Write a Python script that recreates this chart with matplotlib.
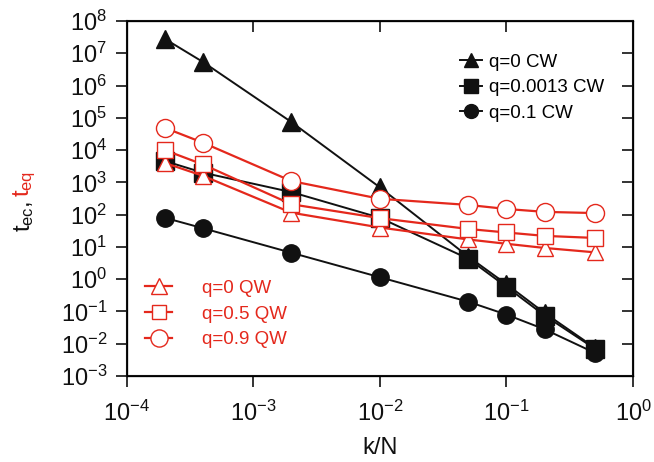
import numpy as np
import matplotlib
matplotlib.use("Agg")
import matplotlib.pyplot as plt
from matplotlib.ticker import LogLocator, NullLocator

plt.rcParams['font.family'] = ['Liberation Sans', 'DejaVu Sans']
plt.rcParams['mathtext.fontset'] = 'custom'
plt.rcParams['mathtext.rm'] = 'Liberation Sans'
plt.rcParams['mathtext.it'] = 'Liberation Sans:italic'
plt.rcParams['mathtext.bf'] = 'Liberation Sans:bold'

RED = '#e4281c'

# k/N values
kn = [2e-4, 4e-4, 2e-3, 1e-2, 5e-2, 1e-1, 2e-1, 5e-1]

# CW series (black, filled)
cw_q0 = [2.8e7, 5.4e6, 7.4e4, 700, 5.0, 0.7, 0.09, 0.0075]
cw_q0013 = [4.6e3, 2.0e3, 500, 80, 4.3, 0.58, 0.075, 0.007]
cw_q01 = [80, 38, 6.6, 1.15, 0.2, 0.08, 0.028, 0.0052]

# QW series (red, open)
qw_q0 = [4.0e3, 1.6e3, 115, 40, 17, 12.5, 9.3, 6.8]
qw_q05 = [1.0e4, 3.6e3, 210, 78, 36, 28, 22, 19]
qw_q09 = [4.9e4, 1.7e4, 1.1e3, 310, 200, 150, 122, 112]

fig = plt.figure(figsize=(6.54, 4.62), dpi=100)
ax = fig.add_axes([0.1937, 0.1861, 0.7743, 0.7684])

blk = []
for y, m, lab in [(cw_q0, '^', 'q=0 CW'), (cw_q0013, 's', 'q=0.0013 CW'), (cw_q01, 'o', 'q=0.1 CW')]:
    h, = ax.plot(kn, y, color='#111111', lw=1.4, marker=m, ms=12.5, mfc='#111111', mec='#111111', label=lab, zorder=2)
    blk.append(h)

red = []
for y, m, ms, lab in [(qw_q0, '^', 12, 'q=0 QW'), (qw_q05, 's', 11, 'q=0.5 QW'), (qw_q09, 'o', 13, 'q=0.9 QW')]:
    h, = ax.plot(kn, y, color=RED, lw=1.6, marker=m, ms=ms, mfc='white', mec=RED, mew=1.0, label=lab, zorder=3)
    red.append(h)

ax.set_xscale('log')
ax.set_yscale('log')
ax.set_xlim(1e-4, 1)
ax.set_ylim(1e-3, 1e8)
ax.xaxis.set_major_locator(LogLocator(base=10, numticks=20))
ax.yaxis.set_major_locator(LogLocator(base=10, numticks=20))
ax.xaxis.set_minor_locator(NullLocator())
ax.yaxis.set_minor_locator(NullLocator())
ax.tick_params(axis='both', which='major', direction='out', length=8, width=1.2,
               labelsize=17, color='#111111', labelcolor='#111111')
ax.tick_params(axis='x', pad=10)
ax.tick_params(axis='y', pad=6)
for s in ax.spines.values():
    s.set_linewidth(1.5)
    s.set_color('#111111')

# top / right inward ticks
axt = ax.twiny()
axt.set_xscale('log')
axt.set_xlim(ax.get_xlim())
axt.xaxis.set_major_locator(LogLocator(base=10, numticks=20))
axt.xaxis.set_minor_locator(NullLocator())
axt.tick_params(axis='x', direction='in', length=8, width=1.2, labeltop=False, color='#111111')
axr = ax.twinx()
axr.set_yscale('log')
axr.set_ylim(ax.get_ylim())
axr.yaxis.set_major_locator(LogLocator(base=10, numticks=20))
axr.yaxis.set_minor_locator(NullLocator())
axr.tick_params(axis='y', direction='in', length=8, width=1.2, labelright=False, color='#111111')

ax.set_xlabel('k/N', fontsize=17, labelpad=8, color='#111111')

leg1 = ax.legend(handles=blk, loc='upper left', bbox_to_anchor=(0.658, 0.908), frameon=False,
                 fontsize=13.5, handlelength=1.2, handletextpad=0.35, labelspacing=0.45,
                 borderpad=0, borderaxespad=0, markerscale=0.8)
ax.add_artist(leg1)
leg2 = ax.legend(handles=red, loc='upper left', bbox_to_anchor=(0.036, 0.271), frameon=False,
                 fontsize=13.5, handlelength=1.45, handletextpad=1.6, labelspacing=0.45,
                 borderpad=0, borderaxespad=0, markerscale=0.95)
for t in leg2.get_texts():
    t.set_color(RED)

# y label: black t_ec, then red t_eq
t1 = fig.text(0.018, 1 - 232 / 462, r't$_{\mathrm{ec}}$,', rotation=90, fontsize=17,
              color='#111111', ha='left', va='bottom')
fig.canvas.draw()
bb = t1.get_window_extent(fig.canvas.get_renderer())
fig.text(0.018, (bb.y1 + 4) / fig.bbox.height, r't$_{\mathrm{eq}}$', rotation=90, fontsize=17,
         color=RED, ha='left', va='bottom')

fig.savefig('out.png', dpi=100)
